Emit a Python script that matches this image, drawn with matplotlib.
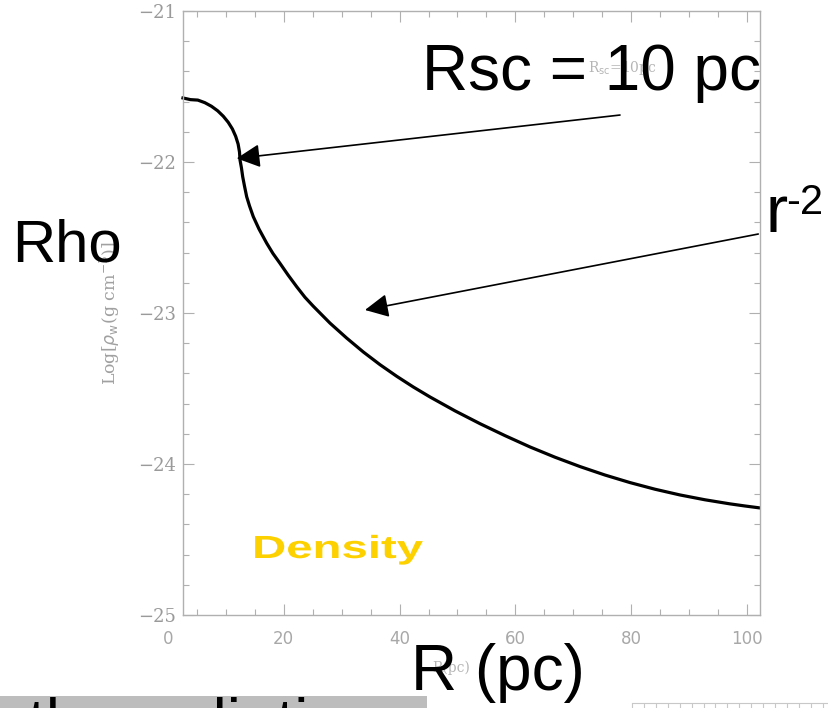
import matplotlib.pyplot as plt
from matplotlib.ticker import MultipleLocator
from matplotlib.textpath import TextPath
from matplotlib.patches import PathPatch
from matplotlib.font_manager import FontProperties
from matplotlib.transforms import Affine2D

# wind density profile: Log[rho_w (g cm^-3)] against R (pc)
radius = [2.59, 3.88, 5.15, 6.36, 7.51, 8.58, 9.55, 10.40, 11.12, 11.69,
          12.11, 12.35, 12.44, 12.69, 12.90, 13.21, 13.59, 14.08, 14.73, 15.72,
          17.05, 18.13, 19.34, 20.73, 22.23, 23.66, 25.09, 27.98, 30.86, 33.73,
          36.61, 39.50, 42.37, 45.25, 49.57, 53.89, 58.20, 62.52, 66.84, 71.16,
          75.47, 79.79, 84.11, 88.43, 92.75, 97.06, 99.65, 102.25]
log_rho = [-21.576, -21.587, -21.590, -21.607, -21.631, -21.661, -21.697, -21.737,
           -21.781, -21.830, -21.881, -21.934, -21.987, -22.040, -22.097, -22.159,
           -22.230, -22.291, -22.362, -22.444, -22.538, -22.606, -22.671, -22.748,
           -22.826, -22.896, -22.955, -23.067, -23.166, -23.258, -23.342, -23.419,
           -23.490, -23.556, -23.648, -23.733, -23.812, -23.887, -23.955, -24.017,
           -24.073, -24.123, -24.167, -24.205, -24.237, -24.264, -24.278, -24.291]

x_ticks = [0, 20, 40, 60, 80, 100]
y_ticks = [-25, -24, -23, -22, -21]
y_ticklabels = ['\u221225', '\u221224', '\u221223', '\u221222', '\u221221']

# arrow anchors (tail -> head) in data units
core_tail, core_head = (78.07, -21.689), (11.86, -21.976)
slope_tail, slope_head = (101.95, -22.477), (34.02, -22.980)

W, H = 829, 708
fig = plt.figure(figsize=(W / 100, H / 100), dpi=100)


def fx(px):
    return px / W


def fy(py):
    return 1 - py / H


grey = '#9a9a9a'
frame = '#b0b0b0'
ax = fig.add_axes([fx(168), fy(615), fx(760 - 168), (615 - 11) / H])
ax.plot(radius, log_rho, color='black', lw=2.3, solid_joinstyle='round')

ax.set_xlim(0, 102.25)
ax.set_ylim(-25, -21)

# IDL-style frame: left edge sits at the first radius
ax.spines['left'].set_position(('data', radius[0]))
ax.spines['top'].set_bounds(radius[0], 102.25)
ax.spines['bottom'].set_bounds(radius[0], 102.25)
for s in ax.spines.values():
    s.set_color(frame)
    s.set_linewidth(1.0)

ax.set_xticks(x_ticks)
ax.set_yticks(y_ticks)
ax.xaxis.set_minor_locator(MultipleLocator(5))
ax.yaxis.set_minor_locator(MultipleLocator(0.2))
ax.set_yticklabels(y_ticklabels)
ax.set_xticklabels([str(t) for t in x_ticks])
ax.tick_params(which='both', direction='in', top=True, right=True, color=frame, width=0.8)
ax.tick_params(which='major', length=8)
ax.tick_params(which='minor', length=4.5)
ax.tick_params(axis='x', pad=11, labelcolor='#a8a8a8', labelsize=12,
               labelfontfamily='DejaVu Sans')
ax.tick_params(axis='y', pad=5, labelcolor=grey, labelsize=13,
               labelfontfamily='DejaVu Serif')
ax.xaxis.get_major_ticks()[0].tick1line.set_visible(False)
ax.xaxis.get_major_ticks()[0].tick2line.set_visible(False)

ax.set_ylabel(r'Log[$\rho_{\rm w}$(g cm$^{-3}$)]', family='DejaVu Serif',
              color='#a0a0a0', fontsize=12.5)
ax.yaxis.set_label_coords((122 - 168) / (760 - 168), 0.5)

# small original labels
fig.text(fx(588), fy(72), r'R$_{\rm sc}$=10pc', family='DejaVu Serif', color='#b5b5b5',
         fontsize=10, va='baseline')
fig.text(fx(432), fy(672), 'R(pc)', family='DejaVu Serif', color='#b5b5b5',
         fontsize=10, va='baseline')

arrow = dict(arrowstyle='-|>', mutation_scale=36, lw=1.2, color='black',
             shrinkA=0, shrinkB=0)
ax.annotate('', xy=core_head, xytext=core_tail, arrowprops=arrow, annotation_clip=False)
ax.annotate('', xy=slope_head, xytext=slope_tail, arrowprops=arrow, annotation_clip=False)

big = dict(family='Liberation Sans', color='black', va='baseline')
fig.text(fx(422), fy(90), 'Rsc = 10 pc', fontsize=46, **big)
fig.text(fx(12), fy(262), 'Rho', fontsize=43, **big)
fig.text(fx(411), fy(690), 'R (pc)', fontsize=46, **big)
fig.text(fx(766), fy(232), 'r', fontsize=48, **big)
fig.text(fx(786), fy(214), '-2', fontsize=30, **big)

# wide bold "Density" label
dens = TextPath((0, 0), 'Density', size=32,
                prop=FontProperties(family='Liberation Sans', weight='bold'))
fig.patches.append(PathPatch(dens, facecolor='#fdd000', edgecolor='none',
                             transform=Affine2D().scale(1.48, 1.0).translate(252, H - 558)))

# caption strip cut off at the bottom edge
fig.patches.append(plt.Rectangle((0, 0), fx(427), 12 / H, transform=fig.transFigure,
                                 facecolor='#bdbdbd', edgecolor='none', zorder=0))
fig.text(fx(28), fy(743), 'the radiation', fontsize=46, **big)

# top edge of the next panel
ax2 = fig.add_axes([fx(632), -0.1, fx(829 - 632) + 0.05, 0.1 + 5 / H])
ax2.set_xlim(0, 20)
ax2.xaxis.set_major_locator(MultipleLocator(1))
ax2.tick_params(direction='in', top=True, bottom=False, left=False, labelbottom=False,
                labelleft=False, color='#c8c8c8', length=4)
ax2.set_yticks([])
for side in ['left', 'right', 'bottom']:
    ax2.spines[side].set_visible(False)
ax2.spines['top'].set_color('#c8c8c8')

fig.savefig('out.png', dpi=100)
